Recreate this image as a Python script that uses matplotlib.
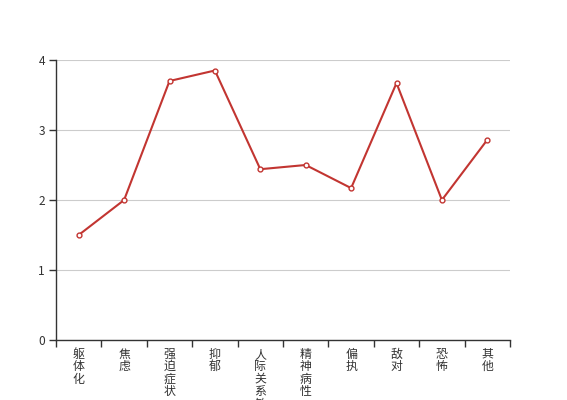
import matplotlib
matplotlib.use("Agg")
import matplotlib.pyplot as plt
import numpy as np

plt.rcParams['font.family'] = ['Noto Sans CJK SC', 'DejaVu Sans']

categories = ["躯体化", "焦虑", "强迫症状", "抑郁", "人际关系敏感", "精神病性", "偏执", "敌对", "恐怖", "其他"]
values = [1.5, 2.0, 3.7, 3.85, 2.44, 2.5, 2.17, 3.67, 2.0, 2.86]
yticks = [0, 1, 2, 3, 4]

fig = plt.figure(figsize=(5.67, 4.0), dpi=100)
ax = fig.add_axes([56/567, 60/400, (510-56)/567, 280/400])

x = np.arange(len(categories))
ax.plot(x, values, color='#c23531', linewidth=1.5, marker='o', markersize=3.5,
        markerfacecolor='white', markeredgecolor='#c23531', markeredgewidth=1, zorder=3, clip_on=False)

ax.set_xlim(-0.5, len(categories) - 0.5)
ax.set_ylim(0, 4)
ax.set_yticks(yticks)
ax.set_yticklabels([str(v) for v in yticks])
ax.yaxis.grid(True, color='#cccccc', linewidth=0.8)
ax.set_axisbelow(True)

ax.set_xticks(np.arange(-0.5, len(categories), 1.0))
ax.set_xticklabels([])
ax.set_xticks(x, minor=True)
ax.set_xticklabels(["\n".join(c) for c in categories], minor=True, fontsize=8.6, color='#333333',
                   linespacing=0.95, va='top')
ax.tick_params(axis='x', which='minor', length=0, pad=5.5)
ax.tick_params(axis='x', which='major', length=5, color='#333333', width=1)
ax.tick_params(axis='y', length=5, color='#333333', width=1, labelsize=8.6, labelcolor='#333333', pad=3)

for s in ['top', 'right']:
    ax.spines[s].set_visible(False)
for s in ['left', 'bottom']:
    ax.spines[s].set_color('#333333')
    ax.spines[s].set_linewidth(1)

fig.savefig('out.png', dpi=100)
